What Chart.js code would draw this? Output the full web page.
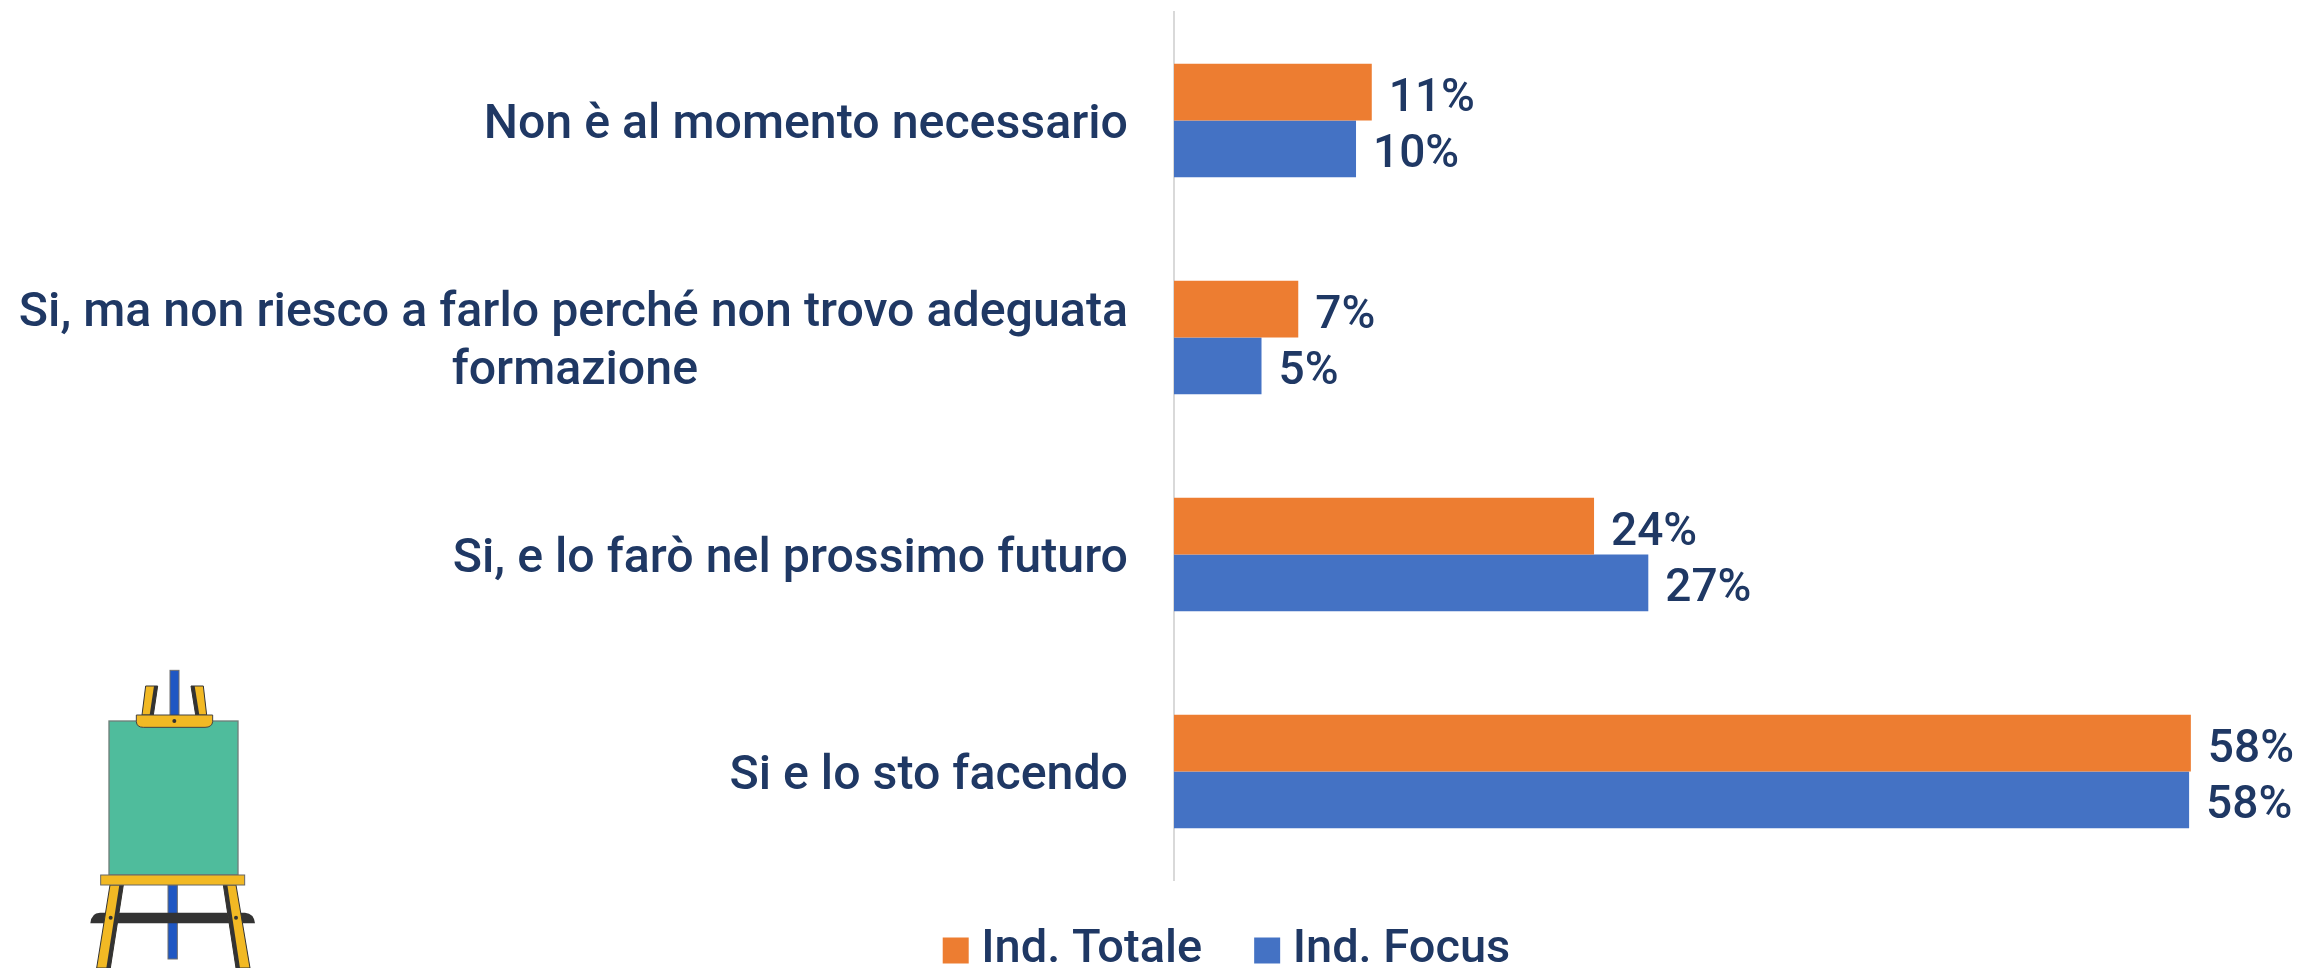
<!DOCTYPE html>
<html><head><meta charset="utf-8">
<style>html,body{margin:0;padding:0;background:#fff;overflow:hidden}#w{position:relative;width:2302px;height:968px}canvas{position:absolute;left:0;top:0}svg{position:absolute;left:0;top:640px}</style>
<script src="https://cdn.jsdelivr.net/npm/chart.js@4"></script></head>
<body><div id="w"><canvas id="c" width="2302" height="968"></canvas>
<svg width="400" height="328" viewBox="0 0 1200 984" aria-hidden="true">
<g stroke="#6f6f6f" stroke-width="3">
<rect x="510" y="91" width="27" height="136" fill="#1F57C3"/>
<rect x="504" y="735" width="28" height="222" fill="#1F57C3"/></g>
<path d="M271 850Q274 818 300 818H735Q762 820 765 850Z" fill="#333"/>
<g fill="#F2B924" stroke="#333" stroke-width="3">
<path d="M437 138H473L460 225H426Z"/><path d="M573 138H610L620 225H587Z"/>
<path d="M330 735H370L331 984H290Z"/><path d="M670 735H708L750 984H708Z"/></g>
<path d="M462 138H473L460 225H449Z" fill="#333"/><path d="M573 138H584L598 225H587Z" fill="#333"/>
<path d="M358 735H370L331 984H319Z" fill="#333"/><path d="M670 735H682L720 984H708Z" fill="#333"/>
<rect x="327" y="243" width="387" height="462" fill="#4FBC9C" stroke="#6f7f7a" stroke-width="4"/>
<path d="M409 225H638V245Q636 262 615 262H430Q410 262 409 245Z" fill="#F2B924" stroke="#444" stroke-width="3"/>
<rect x="302" y="705" width="432" height="30" fill="#F2B924" stroke="#666" stroke-width="3"/>
<g fill="#333"><circle cx="523" cy="243" r="6"/><circle cx="332" cy="833" r="6"/><circle cx="708" cy="833" r="6"/></g>
</svg></div>
<script>
const categories = [
  "Non è al momento necessario",
  ["Si, ma non riesco a farlo perché non trovo adeguata", "formazione"],
  "Si, e lo farò nel prossimo futuro",
  "Si e lo sto facendo"
];
const seriesNames = ["Ind. Totale", "Ind. Focus"];
const totale = [11.3, 7.1, 24.0, 58.1];
const focus = [10.4, 5.0, 27.1, 58.0];
const colors = ["#ED7D31", "#4472C4"];
const textColor = "#1F3864";
const fontFamily = "Roboto";

// make the wrapped second line sit centred under the first line
const centredCategories = categories.map(c => Array.isArray(c)
  ? [c[0], c[1] + "\u00A0".repeat(35) + "\u2009"] : c);

const barValueLabels = {
  id: "barValueLabels",
  afterDatasetsDraw(chart) {
    const ctx = chart.ctx;
    ctx.save();
    ctx.font = `500 46px ${fontFamily}`;
    ctx.fillStyle = textColor;
    ctx.textAlign = "left";
    ctx.textBaseline = "middle";
    chart.data.datasets.forEach((ds, i) => {
      chart.getDatasetMeta(i).data.forEach((bar, j) => {
        ctx.fillText(Math.round(ds.data[j]) + "%", bar.x + 17, bar.y + 7);
      });
    });
    ctx.restore();
  }
};

// the legend sits lower than its box and off the canvas centre
const legendPlacement = {
  id: "legendPlacement",
  afterLayout(chart) {
    const l = chart.legend;
    l.top -= 47;
    l.left += 81; l.right += 81;
  }
};

new Chart(document.getElementById("c"), {
  type: "bar",
  plugins: [barValueLabels, legendPlacement],
  data: {
    labels: centredCategories,
    datasets: [
      { label: seriesNames[0], data: totale, backgroundColor: colors[0] },
      { label: seriesNames[1], data: focus, backgroundColor: colors[1] }
    ]
  },
  options: {
    indexAxis: "y",
    responsive: false,
    animation: false,
    layout: { padding: { left: 0, top: 12, right: 0, bottom: 0 } },
    datasets: { bar: { barPercentage: 1, categoryPercentage: 0.523 } },
    scales: {
      x: {
        min: 0, max: 64.45,
        grid: { display: false, drawTicks: false },
        border: { display: false },
        ticks: { display: false },
        afterFit(s) { s.height = 31; }
      },
      y: {
        grid: { display: false, drawTicks: false },
        border: { display: true, color: "#D9D9D9", width: 2 },
        ticks: { color: textColor, font: { family: fontFamily, size: 48.3, weight: "500" }, padding: 46, labelOffset: 5.5 },
        afterFit(s) { s.width = 1174; s.paddingTop = 0; s.paddingBottom = 0; }
      }
    },
    plugins: {
      tooltip: { enabled: false },
      legend: {
        position: "bottom",
        maxHeight: 57,
        labels: {
          color: textColor,
          font: { family: fontFamily, size: 47, weight: "500" },
          usePointStyle: true, pointStyle: "rect",
          boxWidth: 4, boxHeight: 26, padding: 63
        }
      }
    }
  }
});
</script></body></html>
